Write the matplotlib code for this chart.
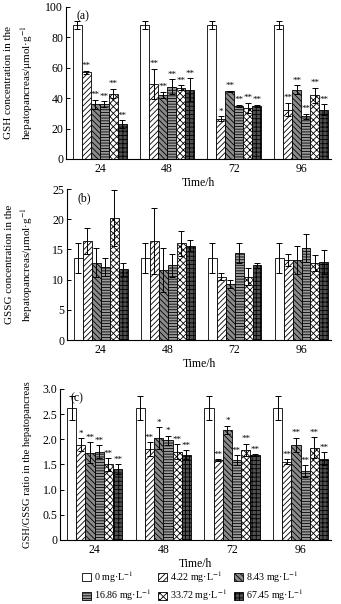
import matplotlib
matplotlib.use("Agg")
import matplotlib.pyplot as plt
import numpy as np
from matplotlib.patches import Patch

plt.rcParams['font.family'] = ['Liberation Serif', 'DejaVu Serif']
plt.rcParams['hatch.linewidth'] = 0.6
plt.rcParams['mathtext.fontset'] = 'stix'

times = ["24", "48", "72", "96"]
conc_labels = ["0 mg·L$^{-1}$", "4.22 mg·L$^{-1}$", "8.43 mg·L$^{-1}$",
               "16.86 mg·L$^{-1}$", "33.72 mg·L$^{-1}$", "67.45 mg·L$^{-1}$"]

# rows: time points; columns: concentrations
gsh = [[88, 57, 36, 36, 43, 23],
       [88, 49.5, 42, 47.5, 47, 45.5],
       [88, 26.5, 44.5, 35, 33.5, 35],
       [88, 32.5, 45.5, 28, 42, 32.5]]
gsh_err = [[2.5, 1, 3, 2, 3, 2.5],
           [2.5, 10, 2, 5, 1.5, 7.5],
           [2.5, 1.5, 0.5, 0.5, 3.5, 0.5],
           [2.5, 4.5, 3, 1.5, 5, 3.5]]
gsh_sig = [["", "**", "**", "**", "**", "**"],
           ["", "**", "**", "**", "**", "**"],
           ["", "*", "**", "**", "**", "**"],
           ["", "**", "**", "**", "**", "**"]]

gssg = [[13.6, 16.4, 12.8, 12.1, 20.2, 11.7],
        [13.6, 16.4, 11.6, 12.4, 16.0, 15.6],
        [13.6, 10.5, 9.3, 14.4, 10.5, 12.4],
        [13.6, 13.2, 13.2, 15.2, 12.8, 12.9]]
gssg_err = [[2.5, 2.2, 2.4, 1.5, 4.7, 1.05],
            [2.5, 5.4, 3.6, 1.9, 2.1, 0.9],
            [2.5, 0.6, 0.7, 1.6, 1.4, 0.4],
            [2.5, 1.0, 2.3, 2.3, 1.3, 2.0]]

ratio = [[2.62, 1.89, 1.73, 1.75, 1.50, 1.41],
         [2.62, 1.80, 2.02, 1.98, 1.75, 1.69],
         [2.62, 1.58, 2.19, 1.58, 1.79, 1.68],
         [2.62, 1.55, 1.89, 1.37, 1.83, 1.61]]
ratio_err = [[0.24, 0.13, 0.21, 0.13, 0.13, 0.10],
             [0.24, 0.14, 0.22, 0.09, 0.15, 0.09],
             [0.24, 0.02, 0.08, 0.10, 0.12, 0.02],
             [0.24, 0.05, 0.14, 0.11, 0.21, 0.13]]
ratio_sig = [["", "*", "**", "**", "**", "**"],
             ["", "**", "*", "*", "**", "**"],
             ["", "**", "*", "**", "**", "**"],
             ["", "**", "**", "**", "**", "**"]]

styles = [dict(facecolor="white", hatch=None),
          dict(facecolor="white", hatch="//////"),
          dict(facecolor="#8a8a8a", hatch="\\\\\\\\\\\\"),
          dict(facecolor="#9a9a9a", hatch="------"),
          dict(facecolor="white", hatch="xxxxx"),
          dict(facecolor="#505050", hatch="++++")]

fig = plt.figure(figsize=(3.41, 6.04), dpi=100)

W = 0.134
offsets = (np.arange(6) - 2.5) * W


def panel(rect, vals, errs, sig, ylim, yticks, yticklabels, ylabel, tag, star_off,
          ylab_fs, ylab_x):
    ax = fig.add_axes(rect)
    vals = np.array(vals)
    errs = np.array(errs)
    x = np.arange(len(times))
    for j in range(6):
        ax.bar(x + offsets[j], vals[:, j], W, edgecolor="black", linewidth=0.6,
               zorder=2, **styles[j])
        ax.errorbar(x + offsets[j], vals[:, j], yerr=errs[:, j], fmt="none",
                    ecolor="black", elinewidth=0.7, capsize=2.2, capthick=0.7, zorder=3)
        if sig is not None:
            for i in range(len(times)):
                s = sig[i][j]
                if s:
                    ax.text(x[i] + offsets[j], vals[i, j] + errs[i, j] + star_off, s,
                            ha="center", va="bottom", fontsize=6.5, zorder=4)
    ax.set_xlim(-0.505, 3.44)
    ax.set_ylim(*ylim)
    ax.set_xticks(x)
    ax.set_xticklabels(times, fontsize=8.5)
    ax.tick_params(axis="x", length=0, pad=3)
    ax.set_yticks(yticks)
    ax.set_yticklabels(yticklabels, fontsize=8.5)
    ax.tick_params(axis="y", direction="in", length=3, width=0.7, pad=2)
    for s in ["top", "right"]:
        ax.spines[s].set_visible(False)
    for s in ["left", "bottom"]:
        ax.spines[s].set_linewidth(0.8)
    ax.set_xlabel("Time/h", fontsize=8.5, labelpad=1)
    ax.set_ylabel(ylabel, fontsize=ylab_fs, linespacing=1.5)
    ax.yaxis.set_label_coords(ylab_x, 0.5)
    ax.text(0.04, 0.98, tag, transform=ax.transAxes, fontsize=8.5, ha="left", va="top")
    return ax


panel([0.1935, 0.7368, 0.777, 0.2517], gsh, gsh_err, gsh_sig, (0, 100),
      [0, 20, 40, 60, 80, 100], ["0", "20", "40", "60", "80", "100"],
      "GSH concentration in the\nhepatopancreas/μmol·g$^{-1}$", "(a)", 0.5, 8.0, -0.117)

panel([0.1965, 0.437, 0.774, 0.250], gssg, gssg_err, None, (0, 25),
      [0, 5, 10, 15, 20, 25], ["0", "5", "10", "15", "20", "25"],
      "GSSG concentration in the\nhepatopancreas/μmol·g$^{-1}$", "(b)", 0, 8.0, -0.12)

panel([0.176, 0.106, 0.794, 0.250], ratio, ratio_err, ratio_sig, (0, 3.0),
      [0, 0.5, 1.0, 1.5, 2.0, 2.5, 3.0], ["0", "0.5", "1.0", "1.5", "2.0", "2.5", "3.0"],
      "GSH/GSSG ratio in the hepatopancreas", "(c)", 0.01, 7.6, -0.105)

handles = [Patch(edgecolor="black", linewidth=0.6, **styles[j]) for j in range(6)]
order = [0, 3, 1, 4, 2, 5]
fig.legend([handles[k] for k in order], [conc_labels[k] for k in order],
           ncol=3, loc="lower center", bbox_to_anchor=(0.565, -0.002), frameon=False,
           fontsize=7.2, handlelength=0.9, handleheight=0.9, handletextpad=0.3,
           columnspacing=0.7, labelspacing=0.3, borderaxespad=0.0, borderpad=0.2)

fig.savefig("out.png", dpi=100)
